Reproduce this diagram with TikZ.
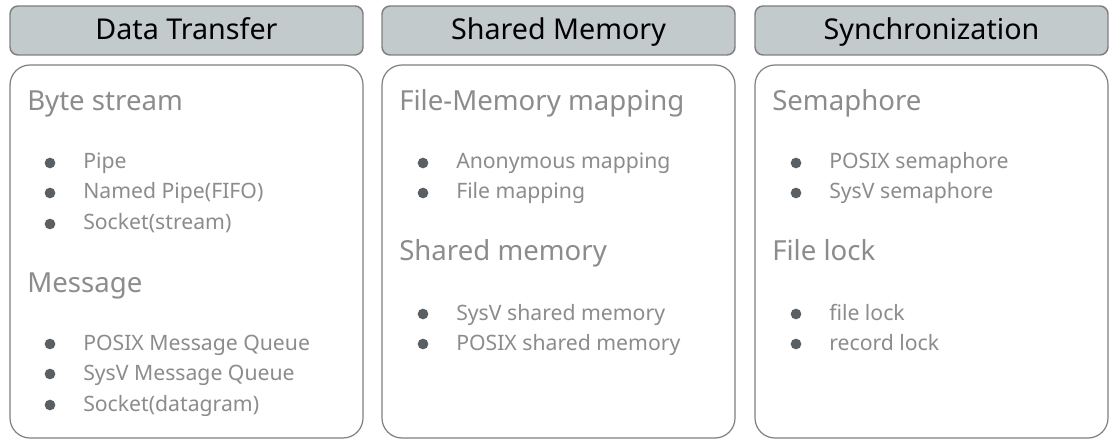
\documentclass[tikz,border=0pt]{standalone}
\usepackage{fontspec}
\setmainfont{Noto Sans}
\usetikzlibrary{positioning}
\definecolor{headfill}{HTML}{C3CACC}
\definecolor{boxline}{HTML}{7F7F7F}
\definecolor{itemtext}{HTML}{8C8C8C}
\definecolor{dotcol}{HTML}{5A5F63}
\tikzset{
  headbox/.style={draw=boxline, line width=1.1pt, fill=headfill, rounded corners=6pt},
  bodybox/.style={draw=boxline, line width=0.9pt, fill=white, rounded corners=15pt},
  headtext/.style={anchor=base, inner sep=0pt, text=black, font=\fontsize{21.5}{25}\selectfont},
  grouptext/.style={anchor=base west, inner sep=0pt, text=itemtext, font=\fontsize{20.7}{24}\selectfont},
  itemtext/.style={anchor=base west, inner sep=0pt, text=itemtext, font=\fontsize{15.9}{19}\selectfont},
  dot/.style={circle, fill=dotcol, inner sep=0pt, minimum size=8pt}
}
\begin{document}
\begin{tikzpicture}[x=0.75pt,y=-0.75pt]
  \useasboundingbox (0,0) rectangle (1120,445);

  % column boxes
  \draw[headbox] (10,6) rectangle (363,55);
  \draw[headbox] (382,6) rectangle (735,55);
  \draw[headbox] (755,6) rectangle (1108,55);
  \draw[bodybox] (10,65) rectangle (363,438);
  \draw[bodybox] (382,65) rectangle (735,438);
  \draw[bodybox] (755,65) rectangle (1108,438);

  \node[headtext] (dthead) at (186.5,40) {Data Transfer};
  \node[headtext] (smhead) at (558.5,40) {Shared Memory};
  \node[headtext] (synhead) at (931.5,40) {Synchronization};

  % Data Transfer
  \node[grouptext] (bytestream) at (27,111) {Byte stream};
  \node[dot] (d1) at (50,163) {};
  \node[itemtext] (pipe) at (83,169) {Pipe};
  \node[dot] (d2) at (50,193) {};
  \node[itemtext] (fifo) at (83,199) {Named Pipe(FIFO)};
  \node[dot] (d3) at (50,224) {};
  \node[itemtext] (sockstream) at (83,230) {Socket(stream)};
  \node[grouptext] (message) at (27,292) {Message};
  \node[dot] (d4) at (50,344) {};
  \node[itemtext] (posixmq) at (83,350) {POSIX Message Queue};
  \node[dot] (d5) at (50,374) {};
  \node[itemtext] (sysvmq) at (83,380) {SysV Message Queue};
  \node[dot] (d6) at (50,405) {};
  \node[itemtext] (sockdgram) at (83,411) {Socket(datagram)};

  % Shared Memory
  \node[grouptext] (filemem) at (399,111) {File-Memory mapping};
  \node[dot] (s1) at (423,163) {};
  \node[itemtext] (anonmap) at (456,169) {Anonymous mapping};
  \node[dot] (s2) at (423,193) {};
  \node[itemtext] (filemap) at (456,199) {File mapping};
  \node[grouptext] (shmem) at (399,261) {Shared memory};
  \node[dot] (s3) at (423,314) {};
  \node[itemtext] (sysvshm) at (456,320) {SysV shared memory};
  \node[dot] (s4) at (423,344) {};
  \node[itemtext] (posixshm) at (456,350) {POSIX shared memory};

  % Synchronization
  \node[grouptext] (semaphore) at (772,111) {Semaphore};
  \node[dot] (y1) at (796,163) {};
  \node[itemtext] (posixsem) at (829,169) {POSIX semaphore};
  \node[dot] (y2) at (796,193) {};
  \node[itemtext] (sysvsem) at (829,199) {SysV semaphore};
  \node[grouptext] (filelock) at (772,261) {File lock};
  \node[dot] (y3) at (796,314) {};
  \node[itemtext] (flock) at (829,320) {file lock};
  \node[dot] (y4) at (796,344) {};
  \node[itemtext] (reclock) at (829,350) {record lock};
\end{tikzpicture}
\end{document}
